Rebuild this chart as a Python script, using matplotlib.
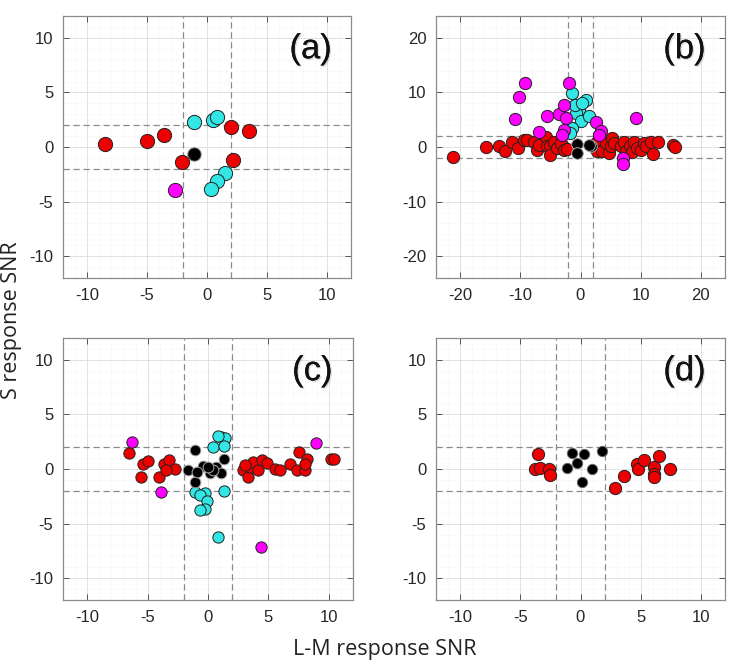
import matplotlib
matplotlib.use("Agg")
import matplotlib.pyplot as plt
from matplotlib.ticker import MultipleLocator
import matplotlib.patheffects as pe

plt.rcParams['font.family'] = ['Liberation Sans', 'DejaVu Sans']
plt.rcParams['axes.unicode_minus'] = False

# panel (a)
a_red_x = [-8.47, -5.0, -3.6, -2.08, 2.03, 3.47, 2.17]
a_red_y = [0.27, 0.52, 1.12, -1.37, 1.85, 1.43, -1.22]
a_blk_x = [-1.11]
a_blk_y = [-0.61]
a_cyn_x = [-1.06, 0.5, 0.83, 1.53, 0.83, 0.33]
a_cyn_y = [2.25, 2.49, 2.74, -2.37, -3.13, -3.89]
a_mag_x = [-2.64]
a_mag_y = [-3.95]

# panel (b)
b_red_x = [-21.1, -15.7, -13.6, -12.5, -11.4, -10.3, -9.4, -8.9, -7.8, -7.2, -6.9, -5.8, -5.6,
           -5.0, -5.0, -4.4, -3.9, -3.3, -2.8, -2.2, 2.5, 2.8, 3.6, 4.2, 4.7, 5.0, 5.3, 5.6,
           6.7, 7.2, 7.5, 8.3, 8.6, 8.9, 9.4, 10.1, 10.6, 10.8, 11.7, 12.1, 12.8, 15.3, 15.7]
b_red_y = [-1.8, 0.0, 0.24, -0.8, 1.0, -0.2, 1.3, 1.3, 1.0, -0.5, 0.4, 1.9, 0.1,
           0.1, -1.4, 1.0, -0.2, 0.7, -0.5, -0.4, 0.7, -0.8, -0.8, 0.7, -1.1, 0.1, 1.6, 0.7,
           0.1, 1.0, -0.8, 0.1, -1.0, 1.0, -0.2, -0.5, 0.7, 0.1, 1.0, -1.2, 0.85, 0.4, 0.0]
b_blk_x = [-0.56, -0.56, 1.67, 1.39]
b_blk_y = [0.6, -1.1, 0.12, 0.4]
b_cyn_x = [-1.39, 0.94, -0.28, -0.83, 0.0, 1.39, -1.39, -1.67, -0.94, 0.28]
b_cyn_y = [9.97, 8.63, 6.8, 6.2, 4.68, 5.6, 3.47, 2.55, 7.7, 8.0]
b_mag_x = [-9.17, -10.28, -10.83, -5.56, -6.94, -3.5, -2.78, -2.39, -2.78, -3.06, -1.94,
           2.5, 3.44, 3.06, 9.17, 7.06, 7.06]
b_mag_y = [11.67, 9.24, 5.1, 5.7, 2.67, 6.0, 7.72, 5.29, 3.16, 2.25, 11.67,
           4.5, 2.98, 2.25, 5.4, -2.0, -3.04]

# panel (c)
c_red_x = [-6.53, -5.42, -5.0, -5.56, -4.03, -3.61, -3.19, -2.72, -3.5,
           2.92, 3.33, 3.47, 3.75, 4.17, 4.44, 4.86, 5.56, 5.97, 6.81, 7.36, 7.56,
           8.06, 8.19, 8.06, 10.14, 10.42, 3.06]
c_red_y = [1.45, 0.42, 0.73, -0.73, -0.73, 0.42, 0.79, 0.03, -0.06,
           -0.06, -0.73, 0.18, 0.64, -0.06, 0.79, 0.55, 0.03, -0.06, 0.48, -0.06, 1.55,
           -0.06, 0.94, 0.48, 0.94, 0.88, 0.33]
c_blk_x = [-1.11, 1.33, -1.67, -0.42, 0.69, 0.14, 1.11, -1.06, -0.9, 0.42, 0.0]
c_blk_y = [1.76, 0.88, -0.06, 0.24, 0.18, -0.36, -0.36, -1.18, -0.27, -0.06, 0.2]
c_cyn_x = [1.11, 1.44, 0.83, 0.42, 1.33, -1.11, -0.28, -0.69, 1.33, -0.08, -0.28, -0.69, 0.83]
c_cyn_y = [2.9, 2.8, 3.06, 2.06, 2.15, -2.09, -2.18, -2.39, -2.0, -2.9, -3.7, -3.8, -6.2]
c_mag_x = [-6.33, -3.89, 8.94, 4.39]
c_mag_y = [2.45, -2.15, 2.39, -7.15]

# panel (d)
d_red_x = [-3.53, -3.8, -3.36, -2.61, -2.53, 2.86, 3.58, 4.69, 4.75, 5.31, 6.14, 6.14, 6.14, 6.5, 7.47]
d_red_y = [1.4, 0.03, 0.12, 0.03, -0.58, -1.74, -0.67, 0.49, -0.03, 0.85, 0.18, -0.43, -0.73, 1.16, 0.03]
d_blk_x = [-0.67, 0.25, 1.75, -0.25, -1.14, 0.94, 0.11]
d_blk_y = [1.46, 1.34, 1.65, 0.55, 0.09, -0.03, -1.19]

RED = '#ee0000'
CYAN = '#33e6e6'
MAG = '#ff00ff'

fig = plt.figure(figsize=(7.38, 6.68), dpi=100)

boxes = [(63, 16, 288, 262), (436, 16, 289, 262), (63, 338, 290, 262), (436, 338, 289, 262)]
axs = []
for (l, t, w, h) in boxes:
    axs.append(fig.add_axes([l / 738, 1 - (t + h) / 668, w / 738, h / 668]))


def style(ax, lim, major, minor, label):
    ax.set_xlim(-lim, lim)
    ax.set_ylim(-lim, lim)
    ax.xaxis.set_major_locator(MultipleLocator(major))
    ax.yaxis.set_major_locator(MultipleLocator(major))
    ax.xaxis.set_minor_locator(MultipleLocator(minor))
    ax.yaxis.set_minor_locator(MultipleLocator(minor))
    ax.grid(which='major', color='#dcdcdc', lw=0.6)
    ax.grid(which='minor', color='#ececec', lw=0.5, ls=':')
    ax.set_axisbelow(True)
    ax.tick_params(which='major', direction='in', length=4, width=0.7, color='#555555',
                   top=True, right=True, labelsize=12, labelcolor='#262626', pad=7)
    ax.tick_params(which='minor', length=0)
    for s in ax.spines.values():
        s.set_color('#8c8c8c')
        s.set_linewidth(0.9)
    for v in (-2, 2):
        ax.axvline(v, color='#8a8a8a', lw=0.9, ls=(0, (5, 3)), zorder=1)
        ax.axhline(v, color='#8a8a8a', lw=0.9, ls=(0, (5, 3)), zorder=1)
    ax.text(0.86, 0.875, label, transform=ax.transAxes, ha='center', va='center',
            fontsize=25, color='#111111', zorder=5,
            path_effects=[pe.withSimplePatchShadow(offset=(1, -1), shadow_rgbFace='#bbbbbb', alpha=0.5),
                          pe.Normal()])


def dots(ax, x, y, c, s, ec='#222222'):
    ax.scatter(x, y, s=s, c=c, edgecolors=ec, linewidths=0.7, zorder=3)


style(axs[0], 12, 5, 1, '(a)')
dots(axs[0], a_red_x, a_red_y, RED, 105)
dots(axs[0], a_cyn_x, a_cyn_y, CYAN, 105)
dots(axs[0], a_mag_x, a_mag_y, MAG, 105)
dots(axs[0], a_blk_x, a_blk_y, 'black', 90, '#666666')

style(axs[1], 24, 10, 2, '(b)')
dots(axs[1], b_red_x, b_red_y, RED, 78)
dots(axs[1], b_cyn_x, b_cyn_y, CYAN, 78)
dots(axs[1], b_mag_x, b_mag_y, MAG, 78)
dots(axs[1], b_blk_x, b_blk_y, 'black', 70, '#aaaaaa')

style(axs[2], 12, 5, 1, '(c)')
dots(axs[2], c_red_x, c_red_y, RED, 66)
dots(axs[2], c_cyn_x, c_cyn_y, CYAN, 66)
dots(axs[2], c_mag_x, c_mag_y, MAG, 66)
dots(axs[2], c_blk_x, c_blk_y, 'black', 60, '#aaaaaa')

style(axs[3], 12, 5, 1, '(d)')
dots(axs[3], d_red_x, d_red_y, RED, 78)
dots(axs[3], d_blk_x, d_blk_y, 'black', 55, '#666666')

fig.text(0.522, 0.027, 'L-M response SNR', ha='center', va='center', fontsize=15.5,
         family='Open Sans', color='#222222')
fig.text(0.016, 0.52, 'S response SNR', ha='center', va='center', rotation=90,
         fontsize=15.5, family='Open Sans', color='#222222')

fig.savefig('out.png', dpi=100)
